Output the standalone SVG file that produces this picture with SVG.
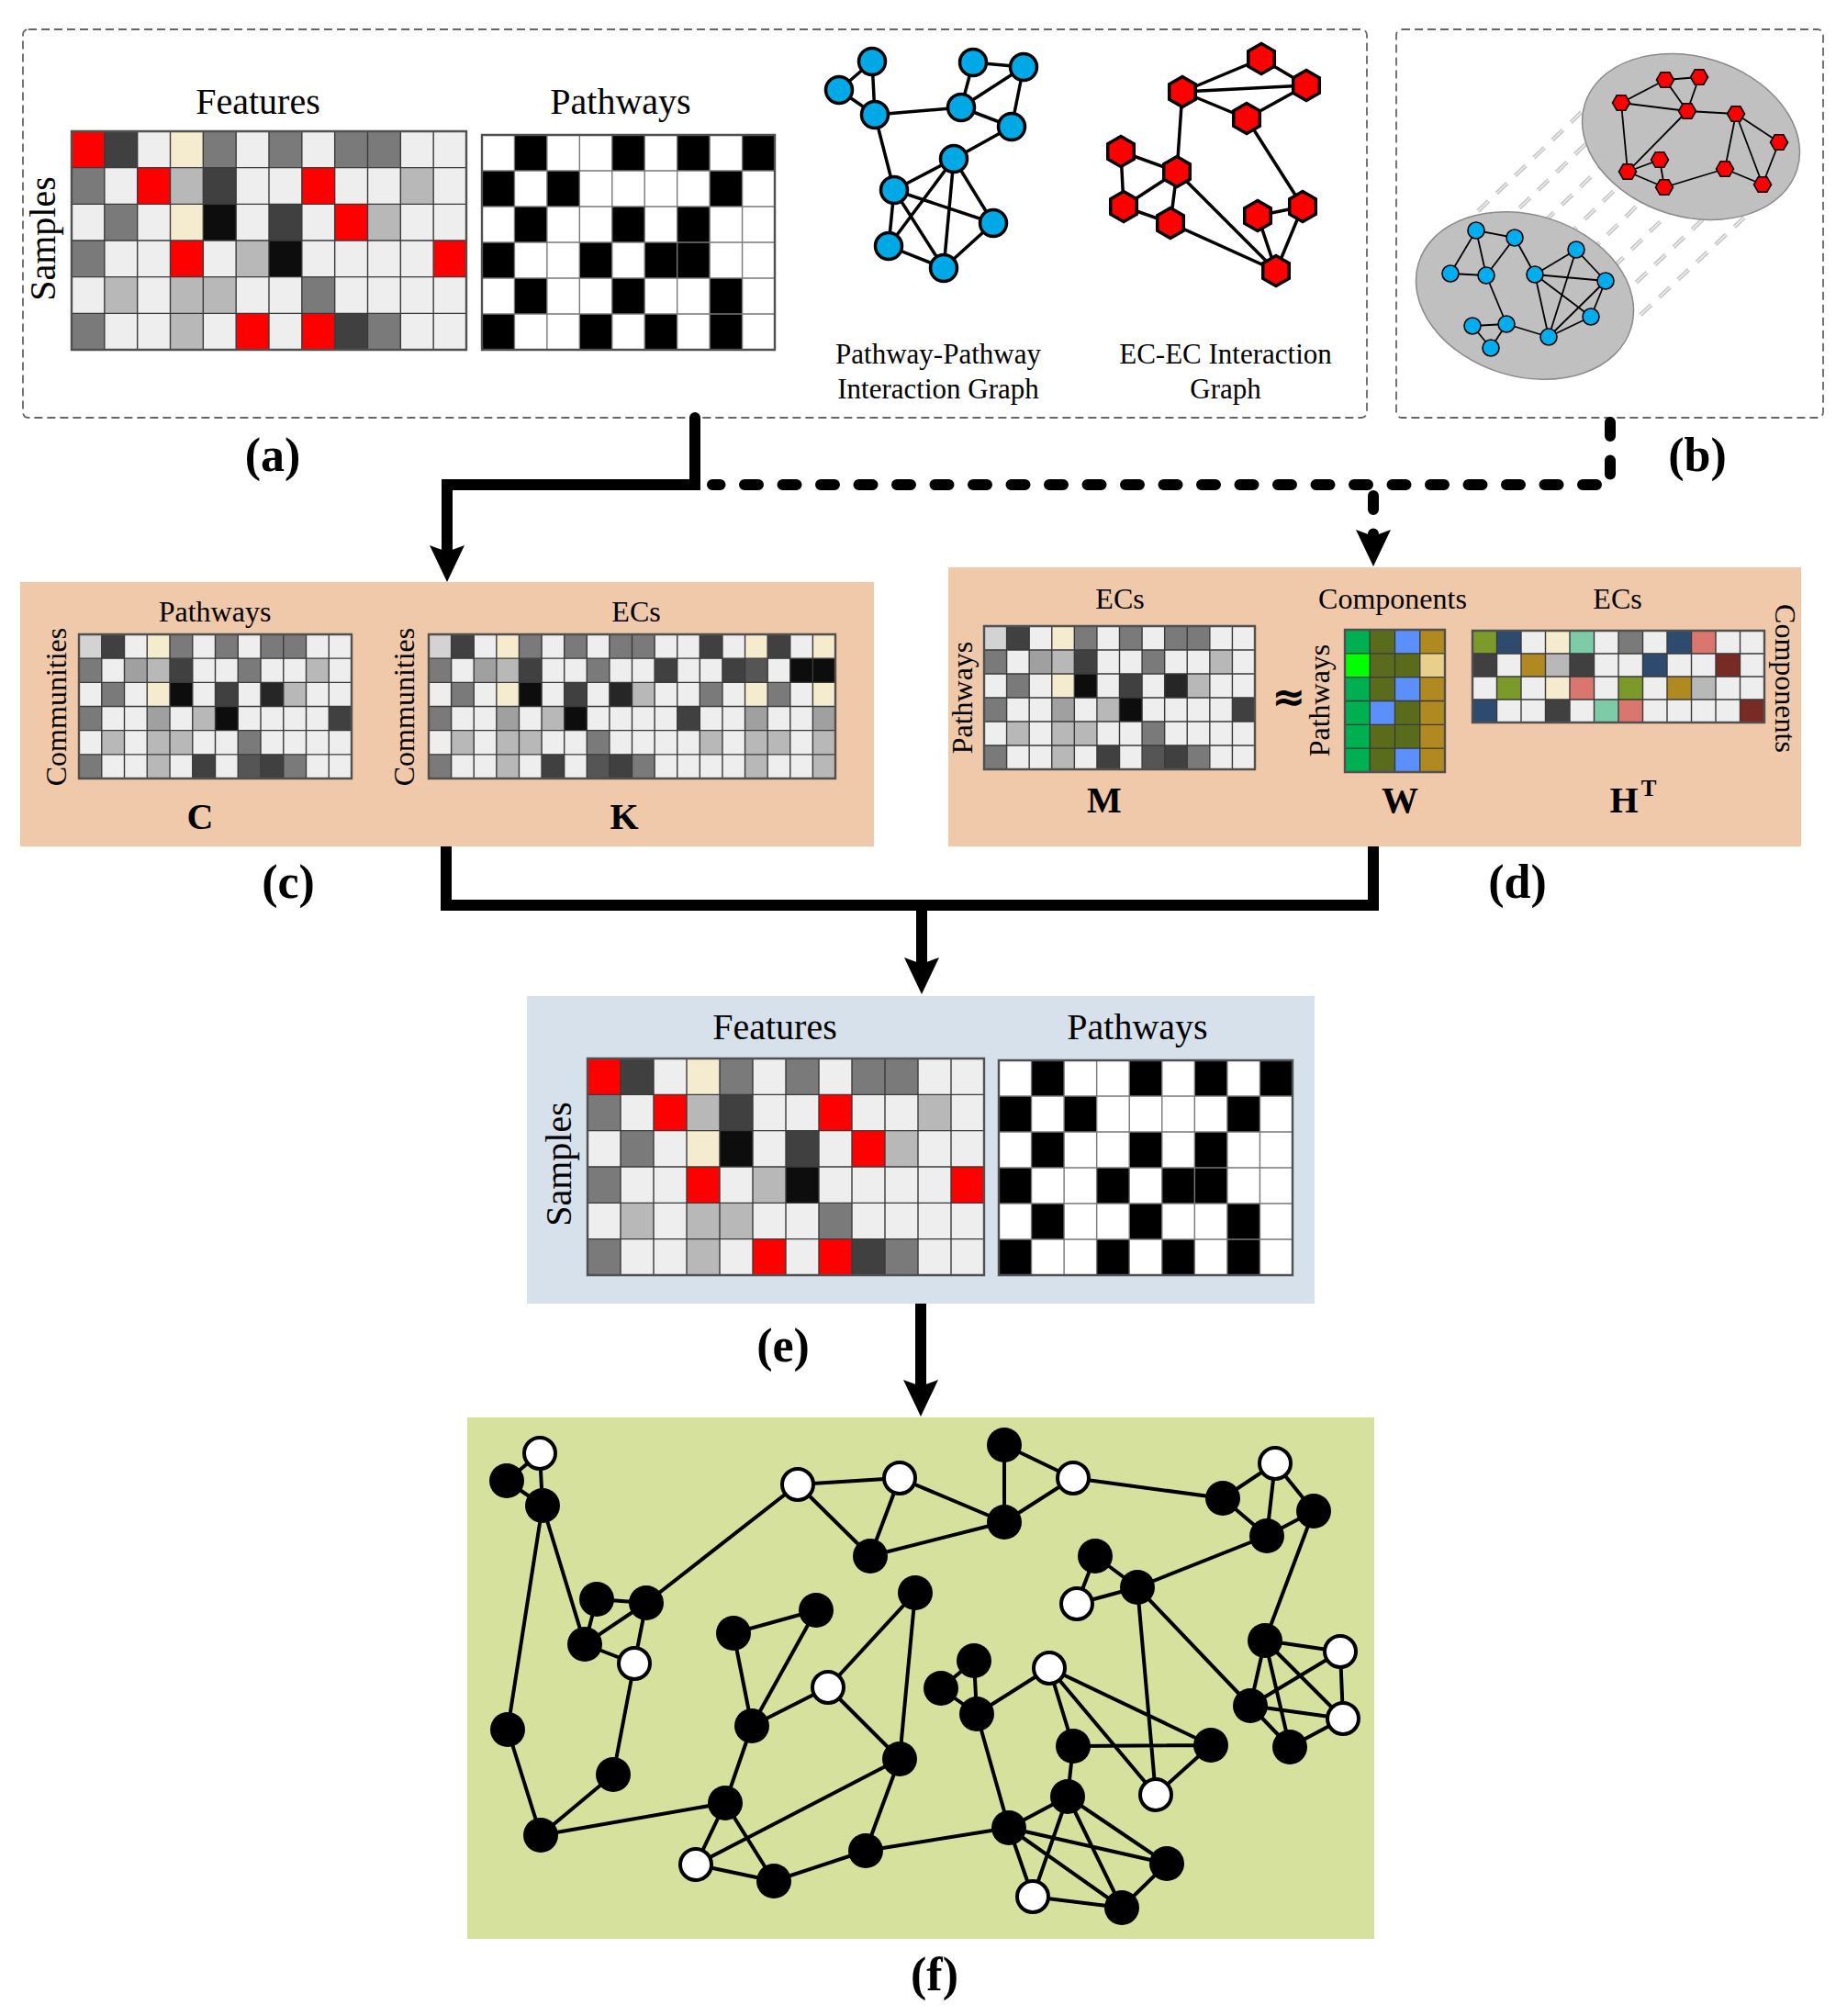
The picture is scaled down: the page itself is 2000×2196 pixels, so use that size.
<svg xmlns="http://www.w3.org/2000/svg" width="2000" height="2196" viewBox="0 0 2000 2196">
<style>
.t{font-family:"Liberation Serif","Times New Roman",serif;fill:#000}
.b{font-weight:bold}
.dbox{fill:#fff;stroke:#666;stroke-width:1.8;stroke-dasharray:9 5}
.gl{fill:none;stroke:#3a3a3a;stroke-width:1.4;vector-effect:non-scaling-stroke}
.gb{fill:none;stroke:#505050;stroke-width:2.4;vector-effect:non-scaling-stroke}
.cL{fill:#eeeeee}.cR{fill:#ff0000}.cD{fill:#404040}.cC{fill:#f5ebcf}.cG{fill:#7a7a7a}.cS{fill:#b8b8b8}.cK{fill:#0d0d0d}
.cQ{fill:#d3d3d3}.cM{fill:#a0a0a0}.cX{fill:#262626}.cN{fill:#555555}
.e3{fill:none;stroke:#000;stroke-width:3.5}
.e2{fill:none;stroke:#000;stroke-width:1.8}
.e4{fill:none;stroke:#000;stroke-width:4}
.blA{fill:#00a8e6;stroke:#000;stroke-width:3.5}
.rdA{fill:#ff0000;stroke:#000;stroke-width:3.5}
.blB{fill:#00aeef;stroke:#000;stroke-width:1.6}
.rdB{fill:#ff0000;stroke:#000;stroke-width:1.6}
.fb{fill:#000}
.fw{fill:#fff;stroke:#000;stroke-width:4}
.con{fill:none;stroke:#000;stroke-width:12}
.dash{fill:none;stroke:#000;stroke-width:12;stroke-dasharray:15 26.5;stroke-linecap:round}
.proj{fill:none;stroke:#c6c6c6;stroke-width:4.5;stroke-dasharray:16 12}
.proj2{fill:none;stroke:#f2f2f2;stroke-width:1.3;stroke-dasharray:16 12}
</style>
<defs>
<marker id="ah" markerUnits="userSpaceOnUse" markerWidth="42" markerHeight="42" viewBox="0 -21 42 42" refX="10" refY="0" orient="auto">
<path d="M0,-19L40,0L0,19L7,0z" fill="#000"/>
</marker>
<polygon id="hexA" points="0,-16.5 14.29,-8.25 14.29,8.25 0,16.5 -14.29,8.25 -14.29,-8.25"/>
<polygon id="hexB" points="9.5,0 4.75,8.23 -4.75,8.23 -9.5,0 -4.75,-8.23 4.75,-8.23"/>
<g id="featCells">
<rect width="12" height="6" class="cL"/>
<path class="cR" d="M0 0h1v1h-1zM2 1h1v1h-1zM7 1h1v1h-1zM8 2h1v1h-1zM3 3h1v1h-1zM11 3h1v1h-1zM5 5h1v1h-1zM7 5h1v1h-1z"/>
<path class="cD" d="M1 0h1v1h-1zM4 1h1v1h-1zM6 2h1v1h-1zM8 5h1v1h-1z"/>
<path class="cC" d="M3 0h1v1h-1zM3 2h1v1h-1z"/>
<path class="cG" d="M4 0h1v1h-1zM6 0h1v1h-1zM8 0h1v1h-1zM9 0h1v1h-1zM0 1h1v1h-1zM1 2h1v1h-1zM0 3h1v1h-1zM7 4h1v1h-1zM0 5h1v1h-1zM9 5h1v1h-1z"/>
<path class="cS" d="M3 1h1v1h-1zM10 1h1v1h-1zM9 2h1v1h-1zM5 3h1v1h-1zM1 4h1v1h-1zM3 4h1v1h-1zM4 4h1v1h-1zM3 5h1v1h-1z"/>
<path class="cK" d="M4 2h1v1h-1zM6 3h1v1h-1z"/>
<path class="gl" d="M1 0V6M2 0V6M3 0V6M4 0V6M5 0V6M6 0V6M7 0V6M8 0V6M9 0V6M10 0V6M11 0V6M0 1H12M0 2H12M0 3H12M0 4H12M0 5H12"/>
<rect class="gb" width="12" height="6"/>
</g>
<g id="pathCells">
<rect width="9" height="6" fill="#fff"/>
<path fill="#000" d="M1 0h1v1h-1zM4 0h1v1h-1zM6 0h1v1h-1zM8 0h1v1h-1zM0 1h1v1h-1zM2 1h1v1h-1zM7 1h1v1h-1zM1 2h1v1h-1zM4 2h1v1h-1zM6 2h1v1h-1zM0 3h1v1h-1zM3 3h1v1h-1zM5 3h1v1h-1zM6 3h1v1h-1zM1 4h1v1h-1zM4 4h1v1h-1zM7 4h1v1h-1zM0 5h1v1h-1zM3 5h1v1h-1zM5 5h1v1h-1zM7 5h1v1h-1z"/>
<path class="gl" style="stroke:#777" d="M1 0V6M2 0V6M3 0V6M4 0V6M5 0V6M6 0V6M7 0V6M8 0V6M0 1H9M0 2H9M0 3H9M0 4H9M0 5H9"/>
<rect class="gb" width="9" height="6"/>
</g>
<g id="cmCells">
<rect width="12" height="6" class="cL"/>
<path class="cQ" d="M0 0h1v1h-1z"/>
<path class="cD" d="M1 0h1v1h-1zM4 1h1v1h-1zM6 2h1v1h-1zM11 3h1v1h-1zM5 5h1v1h-1zM8 5h1v1h-1z"/>
<path class="cC" d="M3 0h1v1h-1zM3 2h1v1h-1z"/>
<path class="cG" d="M4 0h1v1h-1zM6 0h1v1h-1zM8 0h1v1h-1zM9 0h1v1h-1zM0 1h1v1h-1zM7 1h1v1h-1zM1 2h1v1h-1zM0 3h1v1h-1zM7 4h1v1h-1zM0 5h1v1h-1zM9 5h1v1h-1z"/>
<path class="cM" d="M2 1h1v1h-1zM3 3h1v1h-1z"/>
<path class="cS" d="M3 1h1v1h-1zM10 1h1v1h-1zM9 2h1v1h-1zM5 3h1v1h-1zM1 4h1v1h-1zM3 4h1v1h-1zM4 4h1v1h-1zM3 5h1v1h-1z"/>
<path class="cK" d="M4 2h1v1h-1zM6 3h1v1h-1z"/>
<path class="cX" d="M8 2h1v1h-1z"/>
<path class="cN" d="M7 5h1v1h-1z"/>
<path class="gl" d="M1 0V6M2 0V6M3 0V6M4 0V6M5 0V6M6 0V6M7 0V6M8 0V6M9 0V6M10 0V6M11 0V6M0 1H12M0 2H12M0 3H12M0 4H12M0 5H12"/>
<rect class="gb" width="12" height="6"/>
</g>
<g id="kCells">
<rect width="18" height="6" class="cL"/>
<path class="cQ" d="M0 0h1v1h-1z"/>
<path class="cD" d="M1 0h1v1h-1zM12 0h1v1h-1zM15 0h1v1h-1zM4 1h1v1h-1zM10 1h1v1h-1zM13 1h1v1h-1zM6 2h1v1h-1zM11 3h1v1h-1zM5 5h1v1h-1zM8 5h1v1h-1z"/>
<path class="cC" d="M3 0h1v1h-1zM14 0h1v1h-1zM17 0h1v1h-1zM3 2h1v1h-1zM14 2h1v1h-1zM17 2h1v1h-1z"/>
<path class="cG" d="M4 0h1v1h-1zM6 0h1v1h-1zM8 0h1v1h-1zM9 0h1v1h-1zM0 1h1v1h-1zM7 1h1v1h-1zM1 2h1v1h-1zM12 2h1v1h-1zM15 2h1v1h-1zM0 3h1v1h-1zM7 4h1v1h-1zM0 5h1v1h-1zM9 5h1v1h-1z"/>
<path class="cM" d="M2 1h1v1h-1zM3 3h1v1h-1zM14 3h1v1h-1zM17 3h1v1h-1z"/>
<path class="cS" d="M3 1h1v1h-1zM9 2h1v1h-1zM5 3h1v1h-1zM1 4h1v1h-1zM3 4h1v1h-1zM4 4h1v1h-1zM12 4h1v1h-1zM14 4h1v1h-1zM15 4h1v1h-1zM17 4h1v1h-1zM3 5h1v1h-1zM14 5h1v1h-1zM17 5h1v1h-1z"/>
<path class="cN" d="M14 1h1v1h-1zM7 5h1v1h-1z"/>
<path class="cK" d="M16 1h1v1h-1zM17 1h1v1h-1zM4 2h1v1h-1zM6 3h1v1h-1z"/>
<path class="cX" d="M8 2h1v1h-1z"/>
<path class="gl" d="M1 0V6M2 0V6M3 0V6M4 0V6M5 0V6M6 0V6M7 0V6M8 0V6M9 0V6M10 0V6M11 0V6M12 0V6M13 0V6M14 0V6M15 0V6M16 0V6M17 0V6M0 1H18M0 2H18M0 3H18M0 4H18M0 5H18"/>
<rect class="gb" width="18" height="6"/>
</g>
<g id="wCells">
<rect width="4" height="6" fill="#5b6b1c"/>
<path fill="#00b050" d="M0 0h1v1h-1zM0 2h1v4h-1z"/>
<path fill="#00ff00" d="M0 1h1v1h-1z"/>
<path fill="#5b8ff9" d="M2 0h1v1h-1zM2 2h1v1h-1zM1 3h1v1h-1zM2 5h1v1h-1z"/>
<path fill="#b08a20" d="M3 0h1v1h-1zM3 2h1v4h-1z"/>
<path fill="#e8d08a" d="M3 1h1v1h-1z"/>
<path class="gl" d="M1 0V6M2 0V6M3 0V6M0 1H4M0 2H4M0 3H4M0 4H4M0 5H4"/>
<rect class="gb" width="4" height="6"/>
</g>
<g id="hCells">
<rect width="12" height="4" class="cL"/>
<path fill="#7b9a2a" d="M0 0h1v1h-1zM1 2h1v1h-1zM6 2h1v1h-1z"/>
<path fill="#2e4a6e" d="M1 0h1v1h-1zM8 0h1v1h-1zM7 1h1v1h-1zM0 3h1v1h-1z"/>
<path class="cC" d="M3 0h1v1h-1zM3 2h1v1h-1z"/>
<path fill="#7ecba8" d="M4 0h1v1h-1zM5 3h1v1h-1z"/>
<path class="cG" d="M6 0h1v1h-1z"/>
<path fill="#d9776e" d="M9 0h1v1h-1zM4 2h1v1h-1zM6 3h1v1h-1z"/>
<path class="cD" d="M0 1h1v1h-1zM4 1h1v1h-1zM3 3h1v1h-1z"/>
<path fill="#b08a20" d="M2 1h1v1h-1zM8 2h1v1h-1z"/>
<path class="cS" d="M3 1h1v1h-1zM9 2h1v1h-1z"/>
<path fill="#7a2a25" d="M10 1h1v1h-1zM11 3h1v1h-1z"/>
<path class="gl" d="M1 0V4M2 0V4M3 0V4M4 0V4M5 0V4M6 0V4M7 0V4M8 0V4M9 0V4M10 0V4M11 0V4M0 1H12M0 2H12M0 3H12"/>
<rect class="gb" width="12" height="4"/>
</g>
</defs>
<rect width="2000" height="2196" fill="#fff"/>

<g id="panel-a">
<rect class="dbox" x="25" y="32" width="1464" height="423" rx="6"/>
<text class="t" x="281" y="124" font-size="40" text-anchor="middle">Features</text>
<text class="t" x="676" y="124" font-size="40" text-anchor="middle">Pathways</text>
<text class="t" font-size="40" text-anchor="middle" transform="translate(60 260) rotate(-90)">Samples</text>
<use href="#featCells" transform="translate(78 143) scale(35.833 39.667)"/>
<use href="#pathCells" transform="translate(525 147) scale(35.444 39)"/>
<path class="e3" d="M950 67L914 98M950 67L953 125M914 98L953 125M953 125L1047 117M953 125L974 207M1060 68L1115 73M1060 68L1047 117M1115 73L1047 117M1115 73L1102 138M1047 117L1102 138M1102 138L1039 173M1039 173L974 207M1039 173L968 268M1039 173L1028 292M1039 173L1082 243M974 207L1082 243M974 207L968 268M974 207L1028 292M1082 243L1028 292M968 268L1028 292"/>
<g class="blA">
<circle cx="950" cy="67" r="14.5"/><circle cx="914" cy="98" r="14.5"/><circle cx="953" cy="125" r="14.5"/><circle cx="1060" cy="68" r="14.5"/><circle cx="1115" cy="73" r="14.5"/><circle cx="1047" cy="117" r="14.5"/><circle cx="1102" cy="138" r="14.5"/><circle cx="1039" cy="173" r="14.5"/><circle cx="974" cy="207" r="14.5"/><circle cx="1082" cy="243" r="14.5"/><circle cx="968" cy="268" r="14.5"/><circle cx="1028" cy="292" r="14.5"/>
</g>
<path class="e3" d="M1374 64L1288 100M1374 64L1423 93M1288 100L1423 93M1288 100L1358 129M1423 93L1358 129M1288 100L1282 187M1358 129L1419 225M1221 165L1282 187M1221 165L1224 225M1282 187L1224 225M1282 187L1275 243M1224 225L1275 243M1282 187L1390 295M1275 243L1390 295M1370 235L1419 225M1370 235L1390 295M1419 225L1390 295"/>
<g class="rdA">
<use href="#hexA" x="1374" y="64"/><use href="#hexA" x="1288" y="100"/><use href="#hexA" x="1423" y="93"/><use href="#hexA" x="1358" y="129"/><use href="#hexA" x="1221" y="165"/><use href="#hexA" x="1282" y="187"/><use href="#hexA" x="1224" y="225"/><use href="#hexA" x="1275" y="243"/><use href="#hexA" x="1370" y="235"/><use href="#hexA" x="1419" y="225"/><use href="#hexA" x="1390" y="295"/>
</g>
<text class="t" x="1022" y="396" font-size="31" text-anchor="middle">Pathway-Pathway</text>
<text class="t" x="1022" y="434" font-size="31" text-anchor="middle">Interaction Graph</text>
<text class="t" x="1335" y="396" font-size="31" text-anchor="middle">EC-EC Interaction</text>
<text class="t" x="1335" y="434" font-size="31" text-anchor="middle">Graph</text>
</g>

<g id="panel-b">
<rect class="dbox" x="1521" y="32" width="465" height="423" rx="6"/>
<g>
<path class="proj" d="M1610 230L1723 122M1635 246L1748 137M1661 262L1774 153M1686 278L1799 168M1711 295L1824 184M1737 311L1850 201M1762 327L1875 220M1787 343L1900 237"/>
<path class="proj2" d="M1610 230L1723 122M1635 246L1748 137M1661 262L1774 153M1686 278L1799 168M1711 295L1824 184M1737 311L1850 201M1762 327L1875 220M1787 343L1900 237"/>
</g>
<ellipse cx="1842" cy="149" rx="121" ry="87" transform="rotate(17 1842 149)" fill="#c0c0c0" stroke="#8a8a8a" stroke-width="1.5"/>
<ellipse cx="1661" cy="322" rx="121" ry="88" transform="rotate(17 1661 322)" fill="#c0c0c0" stroke="#8a8a8a" stroke-width="1.5"/>
<path class="e2" d="M1814 87L1851 84M1814 87L1766 112M1814 87L1838 121M1851 84L1838 121M1766 112L1838 121M1766 112L1773 187M1838 121L1891 124M1838 121L1773 187M1891 124L1938 155M1891 124L1879 184M1891 124L1920 201M1938 155L1920 201M1808 174L1773 187M1808 174L1813 204M1773 187L1813 204M1813 204L1879 184M1879 184L1920 201"/>
<g class="rdB">
<use href="#hexB" x="1814" y="87"/><use href="#hexB" x="1851" y="84"/><use href="#hexB" x="1766" y="112"/><use href="#hexB" x="1838" y="121"/><use href="#hexB" x="1891" y="124"/><use href="#hexB" x="1938" y="155"/><use href="#hexB" x="1808" y="174"/><use href="#hexB" x="1773" y="187"/><use href="#hexB" x="1813" y="204"/><use href="#hexB" x="1879" y="184"/><use href="#hexB" x="1920" y="201"/>
</g>
<path class="e2" d="M1608 251L1650 259M1608 251L1580 298M1608 251L1619 300M1580 298L1619 300M1650 259L1619 300M1650 259L1672 299M1619 300L1641 353M1672 299L1717 272M1672 299L1749 306M1672 299L1733 345M1672 299L1687 367M1717 272L1749 306M1717 272L1687 367M1749 306L1733 345M1749 306L1687 367M1733 345L1687 367M1604 355L1641 353M1604 355L1624 379M1641 353L1624 379M1641 353L1687 367"/>
<g class="blB">
<circle cx="1608" cy="251" r="9"/><circle cx="1650" cy="259" r="9"/><circle cx="1580" cy="298" r="9"/><circle cx="1619" cy="300" r="9"/><circle cx="1672" cy="299" r="9"/><circle cx="1717" cy="272" r="9"/><circle cx="1749" cy="306" r="9"/><circle cx="1733" cy="345" r="9"/><circle cx="1604" cy="355" r="9"/><circle cx="1641" cy="353" r="9"/><circle cx="1624" cy="379" r="9"/><circle cx="1687" cy="367" r="9"/>
</g>
</g>

<g id="panel-c">
<rect x="22" y="634" width="930" height="288" fill="#f0c8aa"/>
<text class="t" x="234" y="677" font-size="32" text-anchor="middle">Pathways</text>
<text class="t" x="693" y="677" font-size="32" text-anchor="middle">ECs</text>
<text class="t" font-size="32" text-anchor="middle" transform="translate(72 770) rotate(-90)">Communities</text>
<text class="t" font-size="32" text-anchor="middle" transform="translate(451 770) rotate(-90)">Communities</text>
<use href="#cmCells" transform="translate(86 691) scale(24.75 26.167)"/>
<use href="#kCells" transform="translate(467 691) scale(24.611 26.167)"/>
<text class="t b" x="218" y="903" font-size="40" text-anchor="middle">C</text>
<text class="t b" x="680" y="903" font-size="40" text-anchor="middle">K</text>
</g>

<g id="panel-d">
<rect x="1033" y="618" width="929" height="304" fill="#f0c8aa"/>
<text class="t" x="1220" y="663" font-size="32" text-anchor="middle">ECs</text>
<text class="t" x="1517" y="663" font-size="32" text-anchor="middle">Components</text>
<text class="t" x="1762" y="663" font-size="32" text-anchor="middle">ECs</text>
<text class="t" font-size="32" text-anchor="middle" transform="translate(1059 760) rotate(-90)">Pathways</text>
<text class="t" font-size="32" text-anchor="middle" transform="translate(1448 763) rotate(-90)">Pathways</text>
<text class="t" font-size="32" text-anchor="middle" transform="translate(1934 739) rotate(90)">Components</text>
<use href="#cmCells" transform="translate(1072 682) scale(24.583 26)"/>
<use href="#wCells" transform="translate(1465 686) scale(27.25 25.833)"/>
<use href="#hCells" transform="translate(1604 687) scale(26.5 25)"/>
<text x="1404" y="774" font-size="44" font-weight="bold" font-family="'DejaVu Sans',sans-serif" text-anchor="middle">≈</text>
<text class="t b" x="1203" y="885" font-size="40" text-anchor="middle">M</text>
<text class="t b" x="1525" y="885" font-size="40" text-anchor="middle">W</text>
<text class="t b" x="1769" y="885" font-size="40" text-anchor="middle">H</text>
<text class="t b" x="1796" y="867" font-size="25" text-anchor="middle">T</text>
</g>

<g id="panel-e">
<rect x="574" y="1085" width="858" height="335" fill="#d7e1eb"/>
<text class="t" x="844" y="1132" font-size="40" text-anchor="middle">Features</text>
<text class="t" x="1239" y="1132" font-size="40" text-anchor="middle">Pathways</text>
<text class="t" font-size="40" text-anchor="middle" transform="translate(622 1268) rotate(-90)">Samples</text>
<use href="#featCells" transform="translate(640 1153) scale(36 39.333)"/>
<use href="#pathCells" transform="translate(1088 1155) scale(35.556 39)"/>
</g>

<g id="panel-f">
<rect x="509" y="1544" width="988" height="568" fill="#d5e19d"/>
<path class="e4" d="M588 1583L552 1613M588 1583L591 1640M552 1613L591 1640M591 1640L553 1884M591 1640L637 1791M650 1742L704 1746M650 1742L637 1791M704 1746L637 1791M704 1746L691 1812M637 1791L691 1812M691 1812L668 1933M553 1884L589 1999M668 1933L589 1999M589 1999L790 1964M704 1746L869 1617M869 1617L980 1610M869 1617L948 1695M980 1610L948 1695M980 1610L1094 1658M948 1695L1094 1658M799 1779L889 1754M799 1779L819 1880M889 1754L819 1880M902 1838L819 1880M902 1838L997 1735M902 1838L980 1916M997 1735L980 1916M819 1880L790 1964M790 1964L758 2031M790 1964L843 2049M758 2031L843 2049M758 2031L980 1916M980 1916L943 2016M843 2049L943 2016M943 2016L1099 1991M1094 1574L1169 1610M1094 1574L1094 1658M1169 1610L1094 1658M1169 1610L1332 1632M1389 1594L1332 1632M1389 1594L1380 1673M1389 1594L1431 1646M1332 1632L1380 1673M1431 1646L1380 1673M1431 1646L1378 1787M1380 1673L1239 1729M1193 1695L1173 1747M1193 1695L1239 1729M1173 1747L1239 1729M1239 1729L1259 1955M1239 1729L1362 1858M1378 1787L1460 1799M1378 1787L1362 1858M1378 1787L1463 1872M1378 1787L1405 1903M1460 1799L1362 1858M1460 1799L1463 1872M1362 1858L1463 1872M1362 1858L1405 1903M1463 1872L1405 1903M1061 1809L1025 1839M1061 1809L1064 1867M1025 1839L1064 1867M1064 1867L1143 1817M1064 1867L1099 1991M1143 1817L1169 1902M1143 1817L1259 1955M1143 1817L1319 1901M1169 1902L1319 1901M1319 1901L1259 1955M1169 1902L1163 1957M1163 1957L1099 1991M1163 1957L1222 2078M1163 1957L1271 2030M1099 1991L1125 2066M1099 1991L1222 2078M1099 1991L1271 2030M1125 2066L1222 2078M1125 2066L1163 1957M1222 2078L1271 2030"/>
<g class="fb">
<circle cx="552" cy="1613" r="19"/><circle cx="591" cy="1640" r="19"/><circle cx="650" cy="1742" r="19"/><circle cx="704" cy="1746" r="19"/><circle cx="637" cy="1791" r="19"/><circle cx="553" cy="1884" r="19"/><circle cx="668" cy="1933" r="19"/><circle cx="589" cy="1999" r="19"/><circle cx="948" cy="1695" r="19"/><circle cx="799" cy="1779" r="19"/><circle cx="889" cy="1754" r="19"/><circle cx="819" cy="1880" r="19"/><circle cx="997" cy="1735" r="19"/><circle cx="980" cy="1916" r="19"/><circle cx="790" cy="1964" r="19"/><circle cx="843" cy="2049" r="19"/><circle cx="943" cy="2016" r="19"/>
<circle cx="1094" cy="1574" r="19"/><circle cx="1094" cy="1658" r="19"/><circle cx="1332" cy="1632" r="19"/><circle cx="1431" cy="1646" r="19"/><circle cx="1380" cy="1673" r="19"/><circle cx="1193" cy="1695" r="19"/><circle cx="1239" cy="1729" r="19"/><circle cx="1378" cy="1787" r="19"/><circle cx="1362" cy="1858" r="19"/><circle cx="1405" cy="1903" r="19"/><circle cx="1061" cy="1809" r="19"/><circle cx="1025" cy="1839" r="19"/><circle cx="1064" cy="1867" r="19"/><circle cx="1169" cy="1902" r="19"/><circle cx="1319" cy="1901" r="19"/><circle cx="1163" cy="1957" r="19"/><circle cx="1099" cy="1991" r="19"/><circle cx="1222" cy="2078" r="19"/><circle cx="1271" cy="2030" r="19"/>
</g>
<g class="fw">
<circle cx="588" cy="1583" r="17"/><circle cx="691" cy="1812" r="17"/><circle cx="869" cy="1617" r="17"/><circle cx="980" cy="1610" r="17"/><circle cx="902" cy="1838" r="17"/><circle cx="758" cy="2031" r="17"/><circle cx="1169" cy="1610" r="17"/><circle cx="1389" cy="1594" r="17"/><circle cx="1173" cy="1747" r="17"/><circle cx="1460" cy="1799" r="17"/><circle cx="1463" cy="1872" r="17"/><circle cx="1143" cy="1817" r="17"/><circle cx="1259" cy="1955" r="17"/><circle cx="1125" cy="2066" r="17"/>
</g>
</g>

<g id="connectors">
<path class="con" stroke-linecap="round" d="M757 455V528H487V604" marker-end="url(#ah)"/>
<path class="dash" d="M1754 460V528H776"/>
<path class="dash" d="M1496 540V587" marker-end="url(#ah)"/>
<path class="con" d="M486 922V986H1496V922"/>
<path class="con" d="M1004 986V1053" marker-end="url(#ah)"/>
<path class="con" d="M1003 1420V1513" marker-end="url(#ah)"/>
</g>

<g id="labels">
<text class="t b" x="297" y="513" font-size="52" text-anchor="middle">(a)</text>
<text class="t b" x="1849" y="513" font-size="52" text-anchor="middle">(b)</text>
<text class="t b" x="314" y="978" font-size="52" text-anchor="middle">(c)</text>
<text class="t b" x="1653" y="978" font-size="52" text-anchor="middle">(d)</text>
<text class="t b" x="853" y="1483" font-size="52" text-anchor="middle">(e)</text>
<text class="t b" x="1018" y="2168" font-size="52" text-anchor="middle">(f)</text>
</g>
</svg>
